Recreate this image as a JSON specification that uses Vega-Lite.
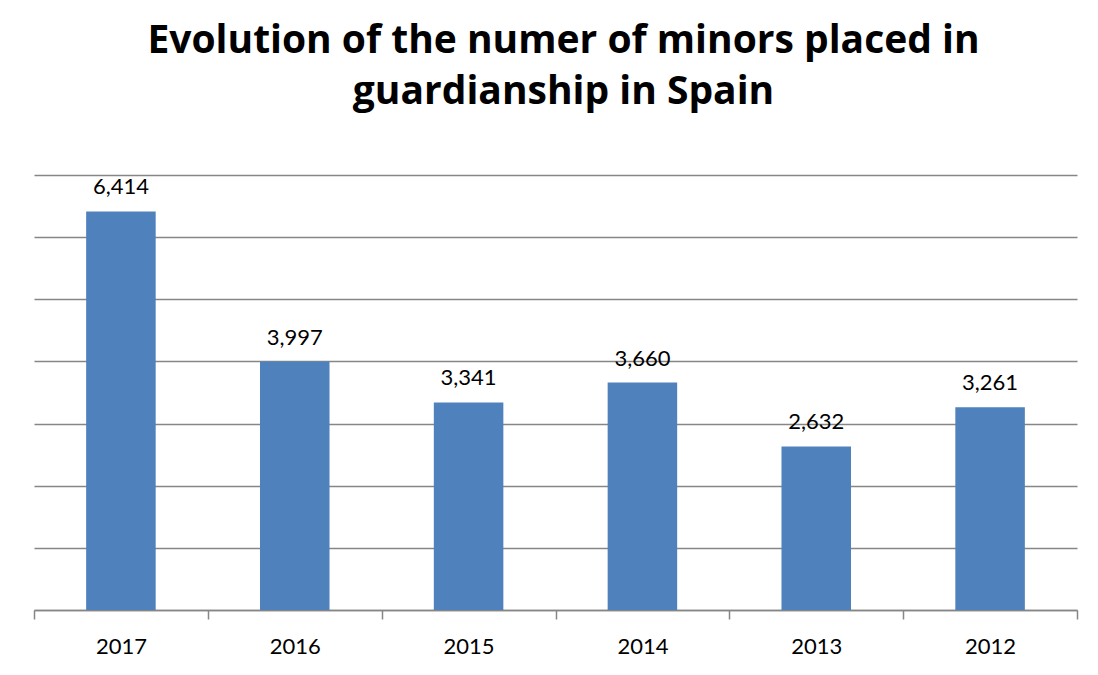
{
  "$schema": "https://vega.github.io/schema/vega-lite/v6.json",
  "autosize": "none",
  "width": 1043,
  "height": 435,
  "padding": {"left": 34, "top": 175, "right": 21, "bottom": 65},
  "background": "white",
  "title": {
    "text": ["Evolution of the numer of minors placed in", "guardianship in Spain"],
    "font": "Open Sans",
    "fontSize": 39,
    "fontWeight": "bold",
    "color": "#000000",
    "lineHeight": 51,
    "anchor": "middle",
    "dx": 8,
    "offset": 63
  },
  "config": {
    "view": {"stroke": null},
    "axis": {"labelFont": "Lato", "labelFontSize": 22, "labelColor": "#000000"}
  },
  "data": {
    "values": [
      {"year": "2017", "value": 6414},
      {"year": "2016", "value": 3997},
      {"year": "2015", "value": 3341},
      {"year": "2014", "value": 3660},
      {"year": "2013", "value": 2632},
      {"year": "2012", "value": 3261}
    ]
  },
  "encoding": {
    "x": {
      "field": "year",
      "type": "nominal",
      "sort": null,
      "scale": {"paddingInner": 0, "paddingOuter": 0},
      "axis": {
        "title": null,
        "labelAngle": 0,
        "tickBand": "extent",
        "tickSize": 9,
        "tickColor": "#868686",
        "domainColor": "#868686",
        "domainWidth": 1.5,
        "tickWidth": 1.5,
        "labelPadding": 34,
        "labelBaseline": "alphabetic",
        "grid": false
      }
    },
    "y": {
      "field": "value",
      "type": "quantitative",
      "scale": {"domain": [0, 7000]},
      "axis": {
        "title": null,
        "values": [0, 1000, 2000, 3000, 4000, 5000, 6000, 7000],
        "labels": false,
        "ticks": false,
        "domain": false,
        "grid": true,
        "gridColor": "#868686",
        "gridWidth": 1.5,
        "gridOpacity": 1
      }
    }
  },
  "layer": [
    {"mark": {"type": "bar", "color": "#4F81BD", "width": {"band": 0.4}}},
    {
      "mark": {"type": "text", "font": "Lato", "fontSize": 22, "color": "#000000", "baseline": "alphabetic", "dy": -17},
      "encoding": {"text": {"field": "value", "type": "quantitative", "format": ","}}
    }
  ]
}
